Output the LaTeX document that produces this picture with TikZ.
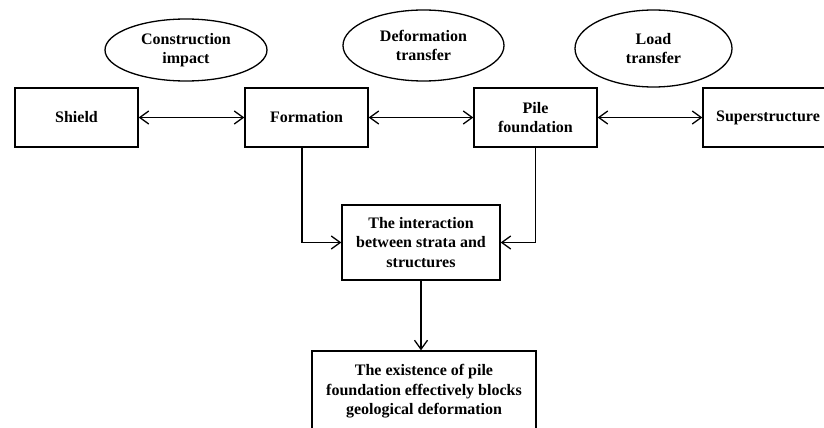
\documentclass[tikz,border=0pt]{standalone}
\usepackage{fontspec}
\setmainfont{Liberation Serif}
\usetikzlibrary{shapes.geometric,arrows.meta}
\begin{document}
\begin{tikzpicture}[x=1pt,y=-1pt,
  every node/.style={font=\fontsize{16}{19.5}\selectfont\bfseries, align=center, inner sep=0pt},
  boxnode/.style={draw, line width=1.3pt, minimum width=#1, rectangle},
  ovalnode/.style={draw, line width=1.3pt, ellipse},
  conn/.style={line width=1.3pt, {Straight Barb[length=9pt,width=13pt]}-{Straight Barb[length=9pt,width=13pt]}},
  conn1/.style={line width=1.3pt, -{Straight Barb[length=9pt,width=13pt]}}]
\useasboundingbox (0,0) rectangle (824,428);
\clip (0,0) rectangle (824,428);
\fill[white] (0,0) rectangle (824,428);
% ellipses
\node[ovalnode, minimum width=162pt, minimum height=62pt] (e1) at (186,50) {Construction\\impact};
\node[ovalnode, minimum width=161pt, minimum height=71pt] (e2) at (423.5,45.5) {Deformation\\transfer};
\node[ovalnode, minimum width=157pt, minimum height=77pt] (e3) at (653.5,48.5) {Load\\transfer};
% top boxes
\node[boxnode=123pt, minimum height=59pt] (shield) at (76.5,117.5) {Shield};
\node[boxnode=123pt, minimum height=59pt] (formation) at (306.5,117.5) {Formation};
\node[boxnode=123pt, minimum height=59pt] (pile) at (535.5,117.5) {Pile\\foundation};
\node[boxnode=130pt, minimum height=59pt] (super) at (768,117.5) {Superstructure};
% middle and bottom
\node[boxnode=158pt, minimum height=75pt] (inter) at (421,242.5) {The interaction\\between strata and\\structures};
\node[boxnode=224pt, minimum height=81pt] (bottom) at (424,391.5) {The existence of pile\\foundation effectively blocks\\geological deformation};
% connectors
\draw[conn] (shield.east) -- (formation.west);
\draw[conn] (formation.east) -- (pile.west);
\draw[conn] (pile.east) -- (super.west);
\draw[conn1] ([xshift=-4.5pt]formation.south) |- (inter.west);
\draw[conn1] (pile.south) |- (inter.east);
\draw[conn1] (inter.south) -- (inter.south |- bottom.north);
\end{tikzpicture}
\end{document}
